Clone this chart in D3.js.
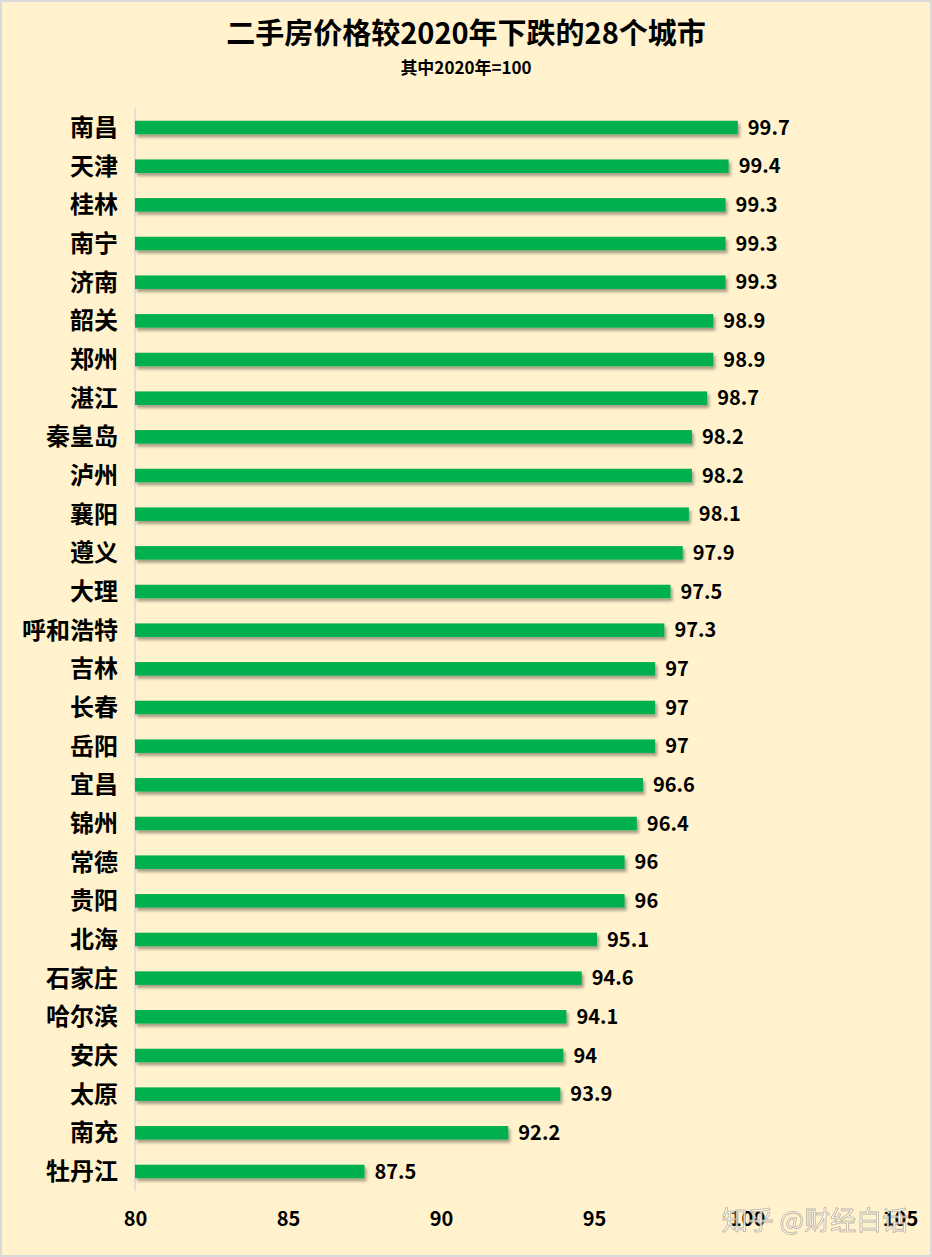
<!DOCTYPE html><html><head><meta charset="utf-8"><script src="https://cdn.jsdelivr.net/npm/d3@7"></script>
<style>body{margin:0;background:#fff}svg{display:block}</style></head><body><svg id="c" width="932" height="1257"></svg>
<script>
const cities=["南昌","天津","桂林","南宁","济南","韶关","郑州","湛江","秦皇岛","泸州","襄阳","遵义","大理","呼和浩特","吉林","长春","岳阳","宜昌","锦州","常德","贵阳","北海","石家庄","哈尔滨","安庆","太原","南充","牡丹江"];
const values=[99.7,99.4,99.3,99.3,99.3,98.9,98.9,98.7,98.2,98.2,98.1,97.9,97.5,97.3,97,97,97,96.6,96.4,96,96,95.1,94.6,94.1,94,93.9,92.2,87.5];
const ticks=[80,85,90,95,100,105];
const svg=d3.select("#c");
const F="'Noto Sans CJK SC','Microsoft YaHei',sans-serif";
svg.append("rect").attr("x",1).attr("y",1).attr("width",930).attr("height",1255).attr("fill","#FFF2CC").attr("stroke","#d9d9d9").attr("stroke-width",2);
const defs=svg.append("defs");
const f=defs.append("filter").attr("id","sh").attr("x","-5%").attr("y","-50%").attr("width","110%").attr("height","250%");
f.append("feDropShadow").attr("dx",2).attr("dy",3).attr("stdDeviation",1.5).attr("flood-color","#000").attr("flood-opacity",0.35);
const x=d3.scaleLinear().domain([80,105]).range([135,900]);
const y=d3.scaleBand().domain(cities).range([108,1191]).paddingInner(0.65).paddingOuter(0.33);
svg.append("text").attr("x",466).attr("y",44).attr("text-anchor","middle").attr("font-family",F).attr("font-weight",700).attr("font-size",29).text("二手房价格较2020年下跌的28个城市");
svg.append("text").attr("x",466).attr("y",74).attr("text-anchor","middle").attr("font-family",F).attr("font-weight",700).attr("font-size",17).text("其中2020年=100");
svg.append("line").attr("x1",135).attr("x2",135).attr("y1",108).attr("y2",1191).attr("stroke","#d9d9d9").attr("stroke-width",1.5);
svg.selectAll(".b").data(cities).join("rect").attr("x",x(80)).attr("y",d=>y(d)).attr("height",y.bandwidth()).attr("width",(d,i)=>x(values[i])-x(80)).attr("fill","#00B050").attr("filter","url(#sh)");
svg.selectAll(".v").data(cities).join("text").attr("x",(d,i)=>x(values[i])+10).attr("y",d=>y(d)+y.bandwidth()/2).attr("dy","0.36em").attr("font-family",F).attr("font-weight",700).attr("font-size",20).text((d,i)=>values[i]);
svg.selectAll(".l").data(cities).join("text").attr("x",118).attr("y",d=>y(d)+y.bandwidth()/2).attr("dy","0.36em").attr("text-anchor","end").attr("font-family",F).attr("font-weight",700).attr("font-size",24).text(d=>d);
const ax=svg.append("g").attr("transform","translate(0,1205)").call(d3.axisBottom(x).tickValues(ticks).tickSize(0));
ax.select(".domain").remove();
ax.selectAll("text").attr("font-family",F).attr("font-weight",700).attr("font-size",20).attr("fill","#000").attr("dy","0.9em");
svg.append("text").attr("x",815).attr("y",1230).attr("text-anchor","middle").attr("font-family",F).attr("font-size",26).attr("fill","#fff").attr("stroke","#b0a898").attr("stroke-width",0.8).attr("opacity",0.85).text("知乎 @财经白话");
</script></body></html>
